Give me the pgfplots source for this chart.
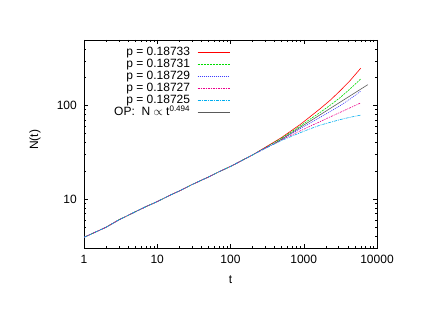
\documentclass[border=0pt]{standalone}
\usepackage{pgfplots}
\pgfplotsset{compat=1.18}
\usepackage{fontspec}
\setmainfont{Liberation Sans}
\definecolor{gpgreen}{RGB}{0,220,0}
\definecolor{gpblue}{RGB}{60,60,255}
\definecolor{gpgray}{RGB}{90,90,90}
\begin{document}
\fontsize{12}{14}\selectfont
\begin{tikzpicture}
\path[use as bounding box] (0pt,0pt) rectangle (436pt,308pt);
\begin{axis}[
  at={(84pt,60pt)}, anchor=south west,
  scale only axis, width=293pt, height=208pt,
  xmode=log, ymode=log,
  xmin=1, xmax=10000, ymin=3, ymax=500,
  xtick={1,10,100,1000,10000}, xticklabels={1,10,100,1000,10000},
  ytick={10,100}, yticklabels={10,100},
  minor xtick={2,3,4,5,6,7,8,9,20,30,40,50,60,70,80,90,200,300,400,500,600,700,800,900,2000,3000,4000,5000,6000,7000,8000,9000},
  minor ytick={4,5,6,7,8,9,20,30,40,50,60,70,80,90,200,300,400},
  tick align=inside, xtick pos=both, ytick pos=both,
  major tick length=4.5pt, minor tick length=2.5pt,
  every tick/.style={black, line width=0.5pt},
  axis line style={line width=0.8pt},
  tick label style={font=\fontsize{12}{14}\selectfont},
  xticklabel style={yshift=-3pt},
  yticklabel style={xshift=-3pt},
  xlabel={t}, ylabel={N(t)},
  label style={font=\fontsize{12}{14}\selectfont},
  xlabel style={at={(axis description cs:0.5,-0.15)}, anchor=center},
  ylabel style={at={(axis description cs:-0.167,0.52)}, anchor=center},
  legend plot pos=right,
  legend cell align=right,
  legend style={at={(0.502,0.975)}, anchor=north east, draw=none, fill=none,
    font=\fontsize{12}{13}\selectfont, row sep=0pt, inner sep=1pt,
    nodes={text height=8.5pt, text depth=2.5pt, inner sep=0.5pt}},
  legend image code/.code={\path[draw=none,fill=none] (0pt,0pt) rectangle (39pt,0.1pt); \draw[#1] (7pt,0pt) -- (39pt,0pt);},
  every axis plot/.append style={line width=0.6pt},
]
\addplot[red, mark=none] coordinates {
(1,3.9) (2,5.0) (3,6.0) (4,6.7) (5,7.3) (7,8.3) (10,9.4) (15,11.0) (20,12.2) (30,14.3) (50,17.2) (70,19.6) (100,22.3) (150,26.3) (200,29.6)
(300,35.8) (500,45.5) (900,62.8) (1200,75) (1667,92) (2300,113.8) (3126,143) (4300,184.6) (6000,250)};
\addlegendentry{p = 0.18733}
\addplot[gpgreen, mark=none, dash pattern=on 2pt off 1pt] coordinates {
(1,3.9) (2,5.0) (3,6.0) (4,6.7) (5,7.3) (7,8.3) (10,9.4) (15,11.0) (20,12.2) (30,14.3) (50,17.2) (70,19.6) (100,22.3) (150,26.3) (200,29.6)
(300,35.5) (500,44.8) (900,60.4) (1200,70.7) (1667,84) (2300,100.6) (3126,121) (4300,150.3) (6000,192)};
\addlegendentry{p = 0.18731}
\addplot[gpblue, mark=none, dash pattern=on 1pt off 1pt] coordinates {
(1,3.9) (2,5.0) (3,6.0) (4,6.7) (5,7.3) (7,8.3) (10,9.4) (15,11.0) (20,12.2) (30,14.3) (50,17.2) (70,19.6) (100,22.3) (150,26.3) (200,29.6)
(300,35.2) (500,43.6) (900,56.5) (1200,64.1) (1667,74.5) (2300,86.1) (3126,99.3) (4300,117.2) (6000,142)};
\addlegendentry{p = 0.18729}
\addplot[magenta, mark=none, dash pattern=on 2pt off 1pt on 1pt off 1pt] coordinates {
(1,3.9) (2,5.0) (3,6.0) (4,6.7) (5,7.3) (7,8.3) (10,9.4) (15,11.0) (20,12.2) (30,14.3) (50,17.2) (70,19.6) (100,22.3) (150,26.3) (200,29.6)
(300,35.0) (500,43.0) (900,53.6) (1200,59.6) (1667,67.1) (2300,75.5) (3126,84.2) (4300,94.4) (6000,106.5)};
\addlegendentry{p = 0.18727}
\addplot[cyan, mark=none, dash pattern=on 3pt off 1pt on 1pt off 1pt] coordinates {
(1,3.9) (2,5.0) (3,6.0) (4,6.7) (5,7.3) (7,8.3) (10,9.4) (15,11.0) (20,12.2) (30,14.3) (50,17.2) (70,19.6) (100,22.3) (150,26.3) (200,29.6)
(300,34.8) (500,42.3) (900,51.2) (1200,56.0) (1667,61.5) (2300,66.0) (3126,70.5) (4300,74.8) (6000,78.8)};
\addlegendentry{p = 0.18725}
\addplot[gpgray, mark=none] coordinates {
(400,39.2) (1000,61.6) (3000,106) (7500,166.7)};
\addlegendentry{OP:\ \ N $\propto$ t\textsuperscript{0.494}}
\end{axis}
\end{tikzpicture}
\end{document}
